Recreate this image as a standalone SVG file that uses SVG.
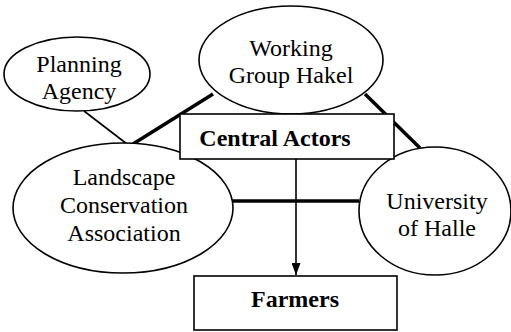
<svg xmlns="http://www.w3.org/2000/svg" width="511" height="332" viewBox="0 0 511 332">
<style>
.node{fill:#fff;stroke:#000;stroke-width:1.6}
.lbl{font-family:"Liberation Serif","Times New Roman",serif;font-size:24px;fill:#000;text-anchor:middle}
.b{font-weight:bold}
.thick{stroke:#000;stroke-width:3.5;fill:none}
.thin{stroke:#000;stroke-width:1.6;fill:none}
</style>
<defs>
<marker id="arr" markerWidth="12" markerHeight="9" refX="12" refY="4.5" orient="auto" markerUnits="userSpaceOnUse" viewBox="0 0 12 9">
<path d="M0,0 L12,4.5 L0,9 Z" fill="#000"/>
</marker>
</defs>
<rect width="511" height="332" fill="#fff"/>
<g id="connectors">
<line class="thin" x1="84" y1="111" x2="127" y2="144"/>
<line class="thick" x1="133" y1="144" x2="213" y2="94"/>
<line class="thick" x1="365" y1="94" x2="420" y2="148"/>
<line class="thick" x1="232" y1="201" x2="359" y2="201"/>
</g>
<g id="planning-agency">
<ellipse class="node" cx="77" cy="74" rx="73" ry="37"/>
<text class="lbl" x="79" y="72">Planning</text>
<text class="lbl" x="79" y="99">Agency</text>
</g>
<g id="working-group-hakel">
<ellipse class="node" cx="291" cy="60" rx="92" ry="54"/>
<text class="lbl" x="291" y="56">Working</text>
<text class="lbl" x="291" y="83">Group Hakel</text>
</g>
<g id="landscape-conservation-association">
<ellipse class="node" cx="123" cy="208" rx="110" ry="65"/>
<text class="lbl" x="124" y="185">Landscape</text>
<text class="lbl" x="124" y="213">Conservation</text>
<text class="lbl" x="124" y="241">Association</text>
</g>
<g id="university-of-halle">
<ellipse class="node" cx="435" cy="211" rx="76" ry="64"/>
<text class="lbl" x="437" y="209">University</text>
<text class="lbl" x="437" y="236">of Halle</text>
</g>
<g id="central-actors">
<rect class="node" x="180" y="114" width="214" height="45"/>
<text class="lbl b" x="275" y="146">Central Actors</text>
</g>
<g id="connectors-arrow">
<line class="thin" x1="296" y1="159" x2="296" y2="275" marker-end="url(#arr)"/>
</g>
<g id="farmers">
<rect class="node" x="194" y="276" width="203" height="54"/>
<text class="lbl b" x="295" y="307">Farmers</text>
</g>
</svg>
